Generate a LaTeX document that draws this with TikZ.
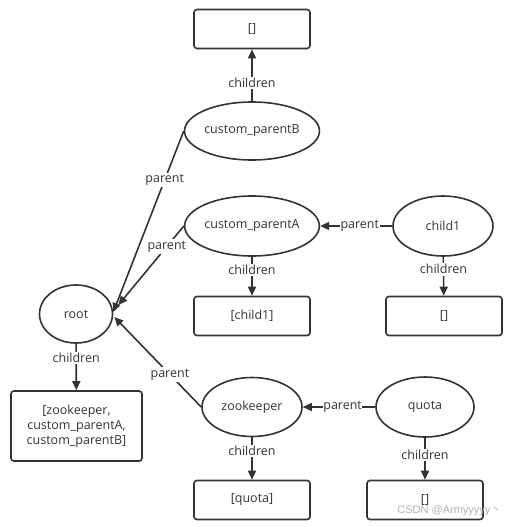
\documentclass[tikz,border=0pt]{standalone}
\usepackage{fontspec}
\setmainfont{Open Sans}
\newfontfamily\cjkfont{Noto Sans CJK SC}
\usetikzlibrary{arrows.meta,shapes.geometric}
\definecolor{ink}{HTML}{333333}
\tikzset{
  every node/.style={font=\fontsize{12.5}{15}\selectfont, text=ink},
  ell/.style={ellipse, draw=ink, line width=1.6pt, minimum width=#1, minimum height=58pt, inner sep=0pt},
  box/.style={rectangle, rounded corners=3pt, draw=ink, line width=1.6pt, minimum width=116pt, minimum height=39pt, inner sep=0pt},
  conn/.style={draw=ink, line width=1.6pt, -{Triangle[length=9pt,width=8pt]}},
  lab/.style={fill=white, inner sep=1.5pt},
}
\begin{document}
\begin{tikzpicture}[x=1pt,y=-1pt]
\useasboundingbox (0,0) rectangle (510,527);
% nodes
\node[box] (bB) at (252,29) {[]};
\node[ell=133pt] (cpB) at (252,131) {custom\_parentB};
\node[ell=133pt, minimum height=60pt] (cpA) at (252,226) {custom\_parentA};
\node[ell=100pt, minimum height=60pt] (c1) at (443,226) {child1};
\node[box] (bA) at (252,316) {[child1]};
\node[box] (b1) at (444,316) {[]};
\node[ell=73pt] (root) at (76,314) {root};
\node[box, minimum width=131pt, minimum height=70pt, align=center] (bR) at (76.5,426)
  {[zookeeper,\\custom\_parentA,\\custom\_parentB]};
\node[ell=100pt, minimum height=59pt] (zk) at (252,407) {zookeeper};
\node[ell=98pt, minimum height=60pt] (q) at (425,407) {quota};
\node[box] (bZ) at (252,500) {[quota]};
\node[box] (bQ) at (425,500) {[]};
% connectors
\draw[conn] (cpB) -- node[lab, pos=0.35] {children} (bB);
\draw[conn] (cpA) -- node[lab, pos=0.34] {children} (bA);
\draw[conn] (c1) -- node[lab, pos=0.32] {children} (b1);
\draw[conn] (root) -- node[lab, pos=0.31] {children} (bR);
\draw[conn] (zk) -- node[lab, pos=0.32] {children} (bZ);
\draw[conn] (q) -- node[lab, pos=0.41] {children} (bQ);
\draw[conn] (c1.west) -- node[lab, pos=0.45, inner sep=0.5pt] {parent} (cpA.east);
\draw[conn] (q.west) -- node[lab, pos=0.45, inner sep=0.5pt] {parent} (zk.east);
\draw[conn] (cpB.west) -- node[lab, pos=0.27] {parent} ([shift={(0,-2)}]root.east);
\draw[conn] (cpA.west) -- node[lab, pos=0.26] {parent} ([shift={(5,-9)}]root.east);
\draw[conn] (zk.west) -- node[lab, pos=0.36] {parent} ([shift={(1,3)}]root.east);
% watermark
\node[text=gray!60, anchor=east, font=\fontsize{11}{13}\selectfont\sffamily] (wm) at (505,511)
  {\fontspec{Liberation Sans}CSDN @Armyyyyy{\cjkfont 丶}};
\end{tikzpicture}
\end{document}
